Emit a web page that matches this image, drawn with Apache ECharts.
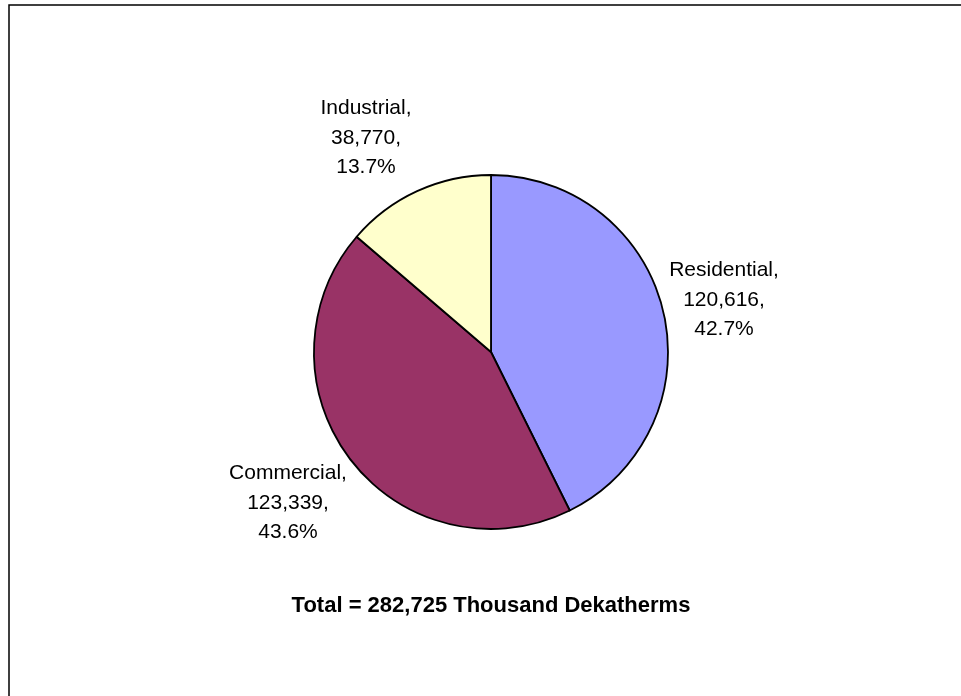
<!DOCTYPE html>
<html>
<head>
<meta charset="utf-8">
<script src="https://cdn.jsdelivr.net/npm/echarts@6/dist/echarts.min.js"></script>
<style>
  html, body { margin: 0; padding: 0; background: #fff; }
  #chart { width: 961px; height: 696px; }
</style>
</head>
<body>
<div id="chart"></div>
<script>
// data
const categories = ["Residential", "Commercial", "Industrial"];
const values = [120616, 123339, 38770];
const colors = ["#9999FF", "#993366", "#FFFFCC"];
const totalText = "Total = 282,725 Thousand Dekatherms";

// label centres (px), same order as categories
const labelPos = [
  [724, 300],
  [288, 503],
  [366, 138],
];

const total = values.reduce((a, b) => a + b, 0);
const font = "'Liberation Sans', Arial, sans-serif";

const chart = echarts.init(document.getElementById("chart"));
const option = {
  backgroundColor: "#fff",
  animation: false,
  graphic: [
    {
      type: "rect",
      shape: { x: 9, y: 5, width: 1000, height: 1000 },
      style: { fill: "transparent", stroke: "#000", lineWidth: 1.5 },
      silent: true,
    },
    {
      // footer note under the pie
      type: "text",
      x: 491,
      y: 606,
      style: {
        text: totalText,
        fontFamily: font,
        fontSize: 22,
        fontWeight: "bold",
        fill: "#000",
        align: "center",
        verticalAlign: "middle",
      },
      silent: true,
    },
  ],
  series: [
    {
      type: "pie",
      center: [491, 352],
      radius: 177,
      startAngle: 90,
      clockwise: true,
      itemStyle: {
        borderColor: "#000",
        borderWidth: 1.8,
      },
      label: {
        show: true,
        position: "outside",
        fontFamily: font,
        fontSize: 21,
        lineHeight: 29.5,
        color: "#000",
        formatter: (p) =>
          p.name + ",\n" + p.value.toLocaleString("en-US") + ",\n" +
          ((p.value / total) * 100).toFixed(1) + "%",
      },
      labelLine: { show: false },
      labelLayout: (params) => {
        const pos = labelPos[params.dataIndex];
        return { x: pos[0], y: pos[1], align: "center", verticalAlign: "middle" };
      },
      data: categories.map((name, i) => ({
        name: name,
        value: values[i],
        itemStyle: { color: colors[i] },
      })),
    },
  ],
};
chart.setOption(option);
</script>
</body>
</html>
